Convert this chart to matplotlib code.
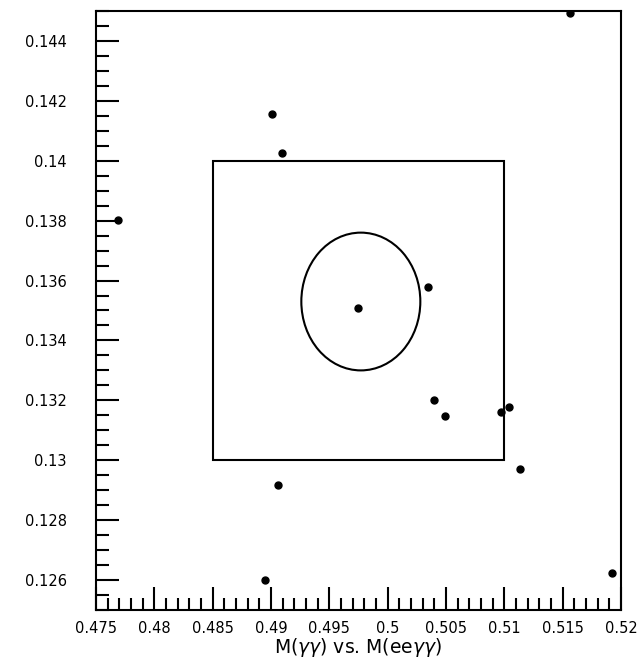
import numpy as np
import matplotlib
matplotlib.use("Agg")
import matplotlib.pyplot as plt
from matplotlib.patches import Ellipse, Rectangle
from matplotlib.ticker import MultipleLocator, FuncFormatter

# Data points: M(eeγγ) on x, M(γγ) on y
m_eegg = [0.51563, 0.49006, 0.49097, 0.47691, 0.50348, 0.49746, 0.50400,
          0.50494, 0.50969, 0.51043, 0.51134, 0.51920, 0.49057, 0.48949]
m_gg = [0.14493, 0.14156, 0.14027, 0.13803, 0.13580, 0.13507, 0.13200,
        0.13149, 0.13160, 0.13178, 0.12971, 0.12622, 0.12919, 0.12600]

# Signal box and ellipse
box_x = [0.485, 0.510]
box_y = [0.130, 0.140]
ell_center = (0.4977, 0.1353)
ell_semi = (0.0051, 0.0023)

xlim = (0.475, 0.520)
ylim = (0.125, 0.145)

fig = plt.figure(figsize=(6.41, 6.69), dpi=100)
ax = fig.add_axes([96/641, 1-610/669, 525/641, 599/669])

ax.plot(m_eegg, m_gg, 'o', color='black', markersize=5, clip_on=True)

ax.add_patch(Rectangle((box_x[0], box_y[0]), box_x[1]-box_x[0], box_y[1]-box_y[0],
                       fill=False, edgecolor='black', linewidth=1.5))
ax.add_patch(Ellipse(ell_center, 2*ell_semi[0], 2*ell_semi[1],
                     fill=False, edgecolor='black', linewidth=1.5))

ax.set_xlim(*xlim)
ax.set_ylim(*ylim)

ax.xaxis.set_major_locator(MultipleLocator(0.005))
ax.xaxis.set_minor_locator(MultipleLocator(0.001))
ax.yaxis.set_major_locator(MultipleLocator(0.002))
ax.yaxis.set_minor_locator(MultipleLocator(0.0005))
fmt = FuncFormatter(lambda v, p: ('%.4f' % v).rstrip('0').rstrip('.'))
ax.xaxis.set_major_formatter(fmt)
ax.yaxis.set_major_formatter(fmt)

ax.tick_params(which='both', direction='in', top=False, right=False,
               width=1.5, color='black')
ax.tick_params(which='major', length=16.5)
ax.tick_params(which='minor', length=9)
ax.tick_params(axis='y', which='major', pad=21, labelsize=10.5)
ax.tick_params(axis='x', which='major', pad=8, labelsize=10.5)

for s in ax.spines.values():
    s.set_linewidth(1.5)

ax.set_xlabel(r'M($\gamma\gamma$) vs. M(ee$\gamma\gamma$)', fontsize=13.5, labelpad=0)

fig.savefig('out.png', dpi=100)
